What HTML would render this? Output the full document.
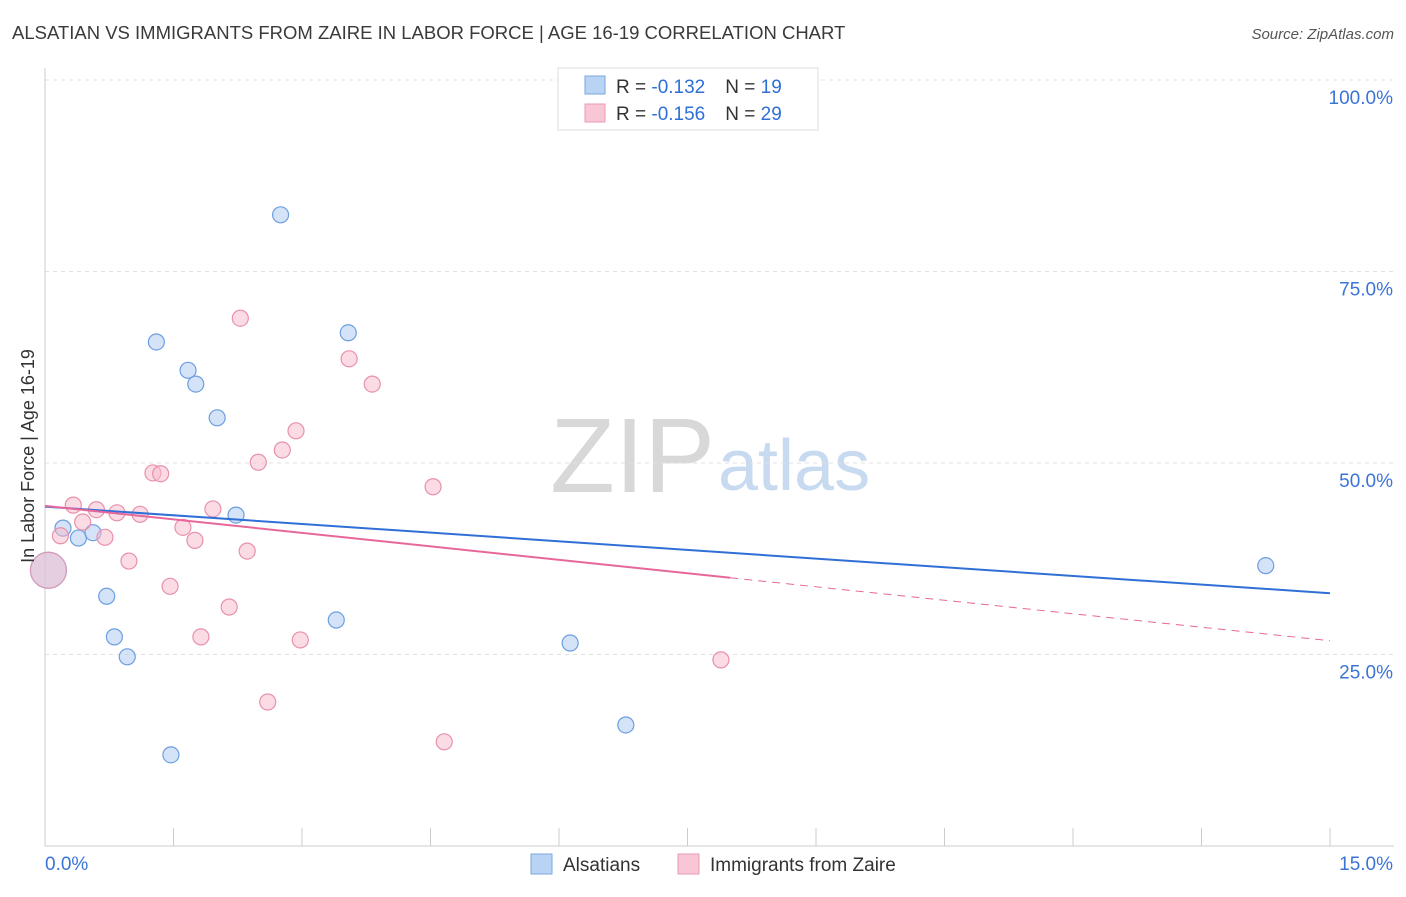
<!DOCTYPE html>
<html><head><meta charset="utf-8"><style>
body{margin:0;background:#fff;font-family:"Liberation Sans",sans-serif}
svg text{font-family:"Liberation Sans",sans-serif}
</style></head><body>
<svg id="c" width="1406" height="892" xmlns="http://www.w3.org/2000/svg">
<text x="12" y="39" font-size="18.5" fill="#3a3a3a">ALSATIAN VS IMMIGRANTS FROM ZAIRE IN LABOR FORCE | AGE 16-19 CORRELATION CHART</text>
<text x="1394" y="39" font-size="15" fill="#555" font-style="italic" text-anchor="end">Source: ZipAtlas.com</text>
<text x="715" y="492" font-size="106" font-family="Liberation Serif,serif" fill="#d8d8d8" text-anchor="end">ZIP</text>
<text x="718" y="490" font-size="72" fill="#c7daf0">atlas</text>
<g id="grid"></g><g id="marks"></g>
<text transform="translate(34,456) rotate(-90)" font-size="18" fill="#333" text-anchor="middle">In Labor Force | Age 16-19</text>
<g>
<rect x="558" y="68" width="260" height="62" fill="#fff" stroke="#ddd"/>
<rect x="585" y="76" width="20" height="18" fill="#b9d3f5" stroke="#7aa7e0"/>
<rect x="585" y="104" width="20" height="18" fill="#f9c6d6" stroke="#ec9ab5"/>
<text x="616" y="93" font-size="19" fill="#333">R = <tspan fill="#2f6fd6">-0.132</tspan><tspan dx="20">N = </tspan><tspan fill="#2f6fd6">19</tspan></text>
<text x="616" y="120" font-size="19" fill="#333">R = <tspan fill="#2f6fd6">-0.156</tspan><tspan dx="20">N = </tspan><tspan fill="#2f6fd6">29</tspan></text>
</g>
<g>
<rect x="531" y="854" width="21" height="20" fill="#b9d3f5" stroke="#7aa7e0"/>
<text x="563" y="871" font-size="19" fill="#333">Alsatians</text>
<rect x="678" y="854" width="21" height="20" fill="#f9c6d6" stroke="#ec9ab5"/>
<text x="710" y="871" font-size="19" fill="#333">Immigrants from Zaire</text>
</g>
</svg>
<script>
const blueX=[2.75,1.30,3.54,1.67,1.76,2.01,2.23,0.21,0.39,0.56,0.72,0.81,0.96,3.40,6.13,6.78,1.47,14.25];
const blueY=[82.4,65.8,67.0,62.1,60.3,55.9,43.2,41.5,40.2,40.9,32.6,27.3,24.7,29.5,26.5,15.8,11.9,36.6];
const pinkX=[2.28,3.55,3.82,2.93,2.77,2.49,1.26,1.35,4.53,0.33,0.60,0.84,1.11,1.96,0.44,0.18,0.70,1.61,1.75,2.36,0.98,1.46,2.15,1.82,2.98,2.60,4.66,7.89];
const pinkY=[68.9,63.6,60.3,54.2,51.7,50.1,48.7,48.6,46.9,44.5,43.9,43.5,43.3,44.0,42.3,40.5,40.3,41.6,39.9,38.5,37.2,33.9,31.2,27.3,26.9,18.8,13.6,24.3];
const bigPoint=[0.04,36.0];
const blueTrend=[44.3,33.0];
const pinkTrend=[44.4,26.8];
const pinkSolidEnd=8.0;
const yTicks=[25,50,75,100];
const xTickCount=10;
const X=v=>45+v/15*1285, Y=v=>846-v*7.66;
const NS="http://www.w3.org/2000/svg";
function mk(p,t,a){const e=document.createElementNS(NS,t);for(const k in a)e.setAttribute(k,a[k]);p.appendChild(e);return e;}
const g=document.getElementById('grid'), m=document.getElementById('marks');
yTicks.forEach(v=>{const l=mk(g,'line',{x1:45,x2:1394,y1:Y(v),y2:Y(v),stroke:'#e2e2e2','stroke-dasharray':'4,4'});


const t=mk(g,'text',{x:1393,y:Y(v)+24,'font-size':19,fill:'#3b74d6','text-anchor':'end'});t.textContent=v.toFixed(1)+'%';

});
mk(g,'line',{x1:45,x2:45,y1:68,y2:846,stroke:'#ccc'});
mk(g,'line',{x1:45,x2:1394,y1:846,y2:846,stroke:'#ccc'});
for(let i=0;i<=xTickCount;i++){const l=mk(g,'line',{x1:X(i*1.5),x2:X(i*1.5),y1:828,y2:846,stroke:'#ccc'});

}
[[0,45,'start'],[15,1393,'end']].forEach(([v,x,a])=>{const t=mk(g,'text',{x:x,y:870,'font-size':19,fill:'#3b74d6','text-anchor':a});t.textContent=v.toFixed(1)+'%';

});
function dot(x,y,r,f,s,n){const c=mk(m,'circle',{cx:X(x),cy:Y(y),r:r,fill:f,stroke:s,'stroke-width':1.2,'fill-opacity':0.5});

}
blueX.forEach((x,i)=>dot(x,blueY[i],8,'#a9c8f0','#6c9ee0','alsatian-point'));
pinkX.forEach((x,i)=>dot(x,pinkY[i],8,'#f7b9cc','#e890ac','zaire-point'));
dot(bigPoint[0],bigPoint[1],18,'#a9c8f0','#8fb0e0','overlap-point-blue');
dot(bigPoint[0],bigPoint[1],18,'#f7b9cc','#d99ab8','overlap-point-pink');
const pAt=x=>pinkTrend[0]+(pinkTrend[1]-pinkTrend[0])*x/15;
let l=mk(m,'line',{x1:X(0),y1:Y(blueTrend[0]),x2:X(15),y2:Y(blueTrend[1]),stroke:'#2f6fd6','stroke-width':2});


l=mk(m,'line',{x1:X(0),y1:Y(pAt(0)),x2:X(pinkSolidEnd),y2:Y(pAt(pinkSolidEnd)),stroke:'#e8679a','stroke-width':2});


l=mk(m,'line',{x1:X(pinkSolidEnd),y1:Y(pAt(pinkSolidEnd)),x2:X(15),y2:Y(pAt(15)),stroke:'#e8679a','stroke-width':1,'stroke-dasharray':'8,6'});


</script>
</body></html>
